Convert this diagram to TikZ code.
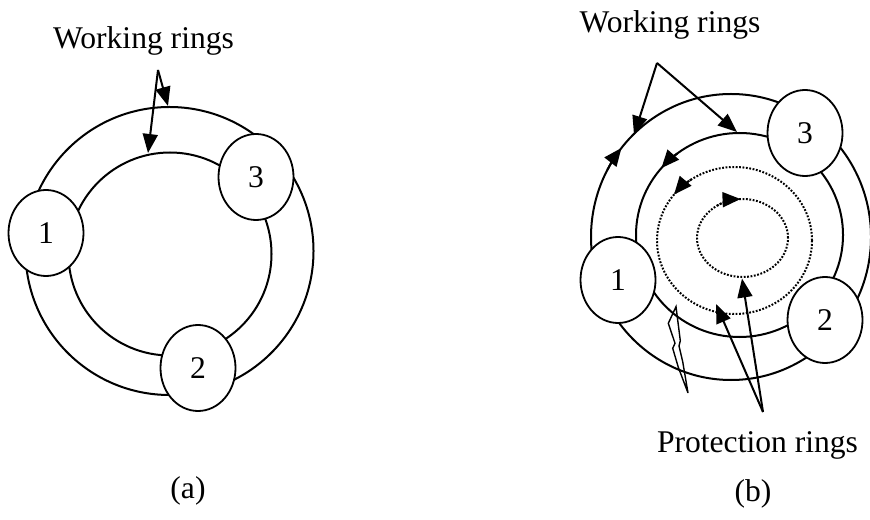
\documentclass[tikz,border=0pt]{standalone}
\usepackage{fontspec}
\setmainfont{Liberation Serif}
\usetikzlibrary{arrows.meta, positioning, shapes.geometric}

\begin{document}
\begin{tikzpicture}[
    x=0.5pt, y=0.5pt,
    font=\fontsize{15.8}{19}\selectfont,
    station/.style = {ellipse, draw, line width=0.9pt, fill=white,
                      minimum width=37.5pt, minimum height=43pt, inner sep=0pt},
    ring/.style    = {line width=1pt},
    pring/.style   = {line width=1pt, dash pattern=on 0.9pt off 0.8pt},
    link/.style    = {-{Triangle[length=9.5pt, width=7.5pt]}, line width=1pt},
    dirtip/.style  = {-{Triangle[length=9pt, width=7.5pt]}},
    caption/.style = {anchor=base, inner sep=0pt},
]
\useasboundingbox (0,0) rectangle (870,519);

% (a) working rings only
\coordinate (ca-out) at (169.5,268);
\coordinate (ca-in)  at (170,265);
\draw[ring] (ca-out) ellipse [x radius=144, y radius=144];
\draw[ring] (ca-in)  ellipse [x radius=101.5, y radius=101.5];

\node[station] (a1) at (46,286)  {1};
\node[station] (a3) at (256,342) {3};
\node[station] (a2) at (198,151) {2};

\node[caption] (wa) at (143.5,470) {Working rings};
\coordinate (wa-apex)  at (158,449);
\coordinate (wa-outer) at (168,413);
\coordinate (wa-inner) at (148,366);
\draw[link] (wa-apex) -- (wa-outer);
\draw[link] (wa-apex) -- (wa-inner);

\node[caption] (capa) at (188,21) {(a)};

% (b) working and protection rings
\coordinate (cb-out)  at (731,282);
\coordinate (cb-in)   at (739.5,284);
\coordinate (cb-pout) at (734.5,278.5);
\coordinate (cb-pin)  at (742.5,281);
\draw[ring]  (cb-out)  ellipse [x radius=140, y radius=143];
\draw[ring]  (cb-in)   ellipse [x radius=103.5, y radius=102];
\draw[pring] (cb-pout) ellipse [x radius=77.5, y radius=73.5];
\draw[pring] (cb-pin)  ellipse [x radius=45.5, y radius=39];

% direction of each ring
\draw[ring, dirtip]  (cb-out)  ++(152:140 and 143)  arc[start angle=152, end angle=141.5, x radius=140, y radius=143];
\draw[ring, dirtip]  (cb-in)   ++(127:103.5 and 102) arc[start angle=127, end angle=139, x radius=103.5, y radius=102];
\draw[pring, dirtip] (cb-pout) ++(124:77.5 and 73.5) arc[start angle=124, end angle=141.3, x radius=77.5, y radius=73.5];
\draw[pring, dirtip] (cb-pin)  ++(124:45.5 and 39)   arc[start angle=124, end angle=92.5, x radius=45.5, y radius=39];

% link failure
\draw[line width=0.7pt] (676,212.3) -- (668.3,195.7) -- (675,175.7) -- (672.7,170.7)
    -- (678.3,151.7) -- (688,126) -- (682.7,157.3) -- (679,173) -- (680.3,178.3) -- cycle;

\node[station] (b3) at (805,386) {3};
\node[station] (b1) at (618,239) {1};
\node[station] (b2) at (825,199) {2};

\node[caption] (wb) at (670,486) {Working rings};
\coordinate (wb-apex)  at (657,456);
\coordinate (wb-outer) at (634,384);
\coordinate (wb-inner) at (737,387);
\draw[link] (wb-apex) -- (wb-outer);
\draw[link] (wb-apex) -- (wb-inner);

\node[caption] (pb) at (757.5,67) {Protection rings};
\coordinate (pb-apex)  at (763,107);
\coordinate (pb-outer) at (716,215);
\coordinate (pb-inner) at (742,240.5);
\draw[link] (pb-apex) -- (pb-outer);
\draw[link] (pb-apex) -- (pb-inner);

\node[caption] (capb) at (753,18) {(b)};

\end{tikzpicture}
\end{document}
